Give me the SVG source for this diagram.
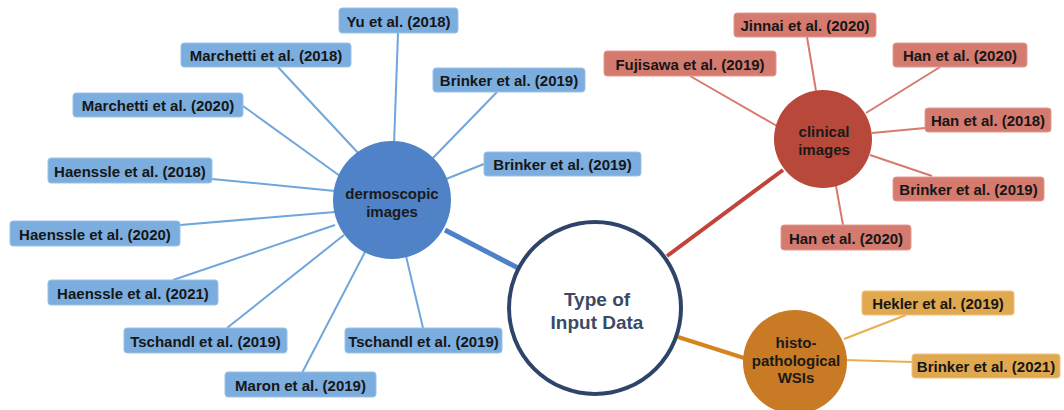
<svg xmlns="http://www.w3.org/2000/svg" width="1064" height="410" viewBox="0 0 1064 410">
  <style>
    .lbl { font-family: "Liberation Sans", Arial, sans-serif; font-size: 15px; font-weight: bold; fill: #161616; text-anchor: middle; dominant-baseline: central; }
    .hub { font-family: "Liberation Sans", Arial, sans-serif; font-size: 15px; font-weight: bold; fill: #1a1a1a; text-anchor: middle; dominant-baseline: central; }
    .root { font-family: "Liberation Sans", Arial, sans-serif; font-size: 19px; font-weight: bold; fill: #3a4a66; text-anchor: middle; dominant-baseline: central; }
    .bbox { fill: #7badde; stroke: #9cc3e8; stroke-width: 1; }
    .rbox { fill: #d47a6f; stroke: #e39a90; stroke-width: 1; }
    .obox { fill: #e0a84f; stroke: #eec27c; stroke-width: 1; }
    .bl { stroke: #6fa6dc; stroke-width: 2; fill: none; }
    .rl { stroke: #d9786c; stroke-width: 2; fill: none; }
    .ol { stroke: #e8ae4c; stroke-width: 2; fill: none; }
  </style>

  <!-- connectors -->
  <g id="connectors">
    <!-- root to categories -->
    <line x1="445" y1="230" x2="518" y2="268" stroke="#4e82c8" stroke-width="5"/>
    <line x1="667" y1="256" x2="783" y2="170" stroke="#c2433a" stroke-width="4"/>
    <line x1="678" y1="337" x2="744" y2="358" stroke="#d5841f" stroke-width="4"/>
    <!-- dermoscopic leaves -->
    <line class="bl" x1="398" y1="33" x2="394" y2="145"/>
    <line class="bl" x1="278" y1="67" x2="360" y2="155"/>
    <line class="bl" x1="243" y1="106" x2="340" y2="176"/>
    <line class="bl" x1="212" y1="179" x2="335" y2="191"/>
    <line class="bl" x1="497" y1="92" x2="431" y2="160"/>
    <line class="bl" x1="484" y1="164" x2="446" y2="179"/>
    <line class="bl" x1="180" y1="225" x2="335" y2="212"/>
    <line class="bl" x1="173" y1="280" x2="335" y2="225"/>
    <line class="bl" x1="227" y1="328" x2="344" y2="235"/>
    <line class="bl" x1="302" y1="373" x2="365" y2="252"/>
    <line class="bl" x1="423" y1="328" x2="406" y2="256"/>
    <!-- clinical leaves -->
    <line class="rl" x1="690" y1="76" x2="777" y2="126"/>
    <line class="rl" x1="807" y1="37" x2="816" y2="91"/>
    <line class="rl" x1="940" y1="67" x2="866" y2="113"/>
    <line class="rl" x1="925" y1="128" x2="872" y2="133"/>
    <line class="rl" x1="932" y1="176" x2="870" y2="155"/>
    <line class="rl" x1="843" y1="225" x2="836" y2="186"/>
    <!-- histopathology leaves -->
    <line class="ol" x1="906" y1="315" x2="844" y2="339"/>
    <line class="ol" x1="912" y1="362" x2="845" y2="360"/>
  </g>

  <!-- root -->
  <g id="root">
    <circle cx="595" cy="308" r="86" fill="#ffffff" stroke="#2e4468" stroke-width="4"/>
    <text class="root" x="597" y="299">Type of</text>
    <text class="root" x="597" y="322">Input Data</text>
  </g>

  <!-- categories -->
  <g id="dermoscopic">
    <circle cx="392" cy="200" r="59" fill="#4f82c6"/>
    <text class="hub" x="392" y="193">dermoscopic</text>
    <text class="hub" x="392" y="211">images</text>
  </g>
  <g id="clinical">
    <circle cx="823" cy="139" r="49" fill="#b8483a"/>
    <text class="hub" x="824" y="131">clinical</text>
    <text class="hub" x="824" y="149">images</text>
  </g>
  <g id="histo">
    <circle cx="795" cy="362" r="52" fill="#c87a24"/>
    <text class="hub" x="796" y="342">histo-</text>
    <text class="hub" x="796" y="360">pathological</text>
    <text class="hub" x="796" y="377">WSIs</text>
  </g>

  <!-- dermoscopic studies -->
  <g id="yu2018"><rect class="bbox" x="339" y="8" width="119" height="25" rx="3"/><text class="lbl" x="398.5" y="21">Yu et al. (2018)</text></g>
  <g id="marchetti2018"><rect class="bbox" x="181" y="43" width="170" height="24" rx="3"/><text class="lbl" x="266" y="55.5">Marchetti et al. (2018)</text></g>
  <g id="marchetti2020"><rect class="bbox" x="73" y="93" width="170" height="24" rx="3"/><text class="lbl" x="158" y="105.5">Marchetti et al. (2020)</text></g>
  <g id="brinker2019a"><rect class="bbox" x="433" y="68" width="152" height="24" rx="3"/><text class="lbl" x="509" y="80.5">Brinker et al. (2019)</text></g>
  <g id="brinker2019b"><rect class="bbox" x="484" y="152" width="157" height="24" rx="3"/><text class="lbl" x="562.5" y="164.5">Brinker et al. (2019)</text></g>
  <g id="haenssle2018"><rect class="bbox" x="48" y="158" width="164" height="25" rx="3"/><text class="lbl" x="130" y="171">Haenssle et al. (2018)</text></g>
  <g id="haenssle2020"><rect class="bbox" x="10" y="221" width="170" height="25" rx="3"/><text class="lbl" x="95" y="234">Haenssle et al. (2020)</text></g>
  <g id="haenssle2021"><rect class="bbox" x="48" y="280" width="170" height="25" rx="3"/><text class="lbl" x="133" y="293">Haenssle et al. (2021)</text></g>
  <g id="tschandl2019a"><rect class="bbox" x="124" y="328" width="163" height="25" rx="3"/><text class="lbl" x="205.5" y="341">Tschandl et al. (2019)</text></g>
  <g id="tschandl2019b"><rect class="bbox" x="345" y="328" width="157" height="25" rx="3"/><text class="lbl" x="423.5" y="341">Tschandl et al. (2019)</text></g>
  <g id="maron2019"><rect class="bbox" x="225" y="372" width="151" height="25" rx="3"/><text class="lbl" x="300.5" y="385">Maron et al. (2019)</text></g>

  <!-- clinical studies -->
  <g id="fujisawa2019"><rect class="rbox" x="604" y="51" width="172" height="25" rx="3"/><text class="lbl" x="690" y="64">Fujisawa et al. (2019)</text></g>
  <g id="jinnai2020"><rect class="rbox" x="734" y="13" width="142" height="24" rx="3"/><text class="lbl" x="805" y="25.5">Jinnai et al. (2020)</text></g>
  <g id="han2020a"><rect class="rbox" x="893" y="43" width="134" height="24" rx="3"/><text class="lbl" x="960" y="55.5">Han et al. (2020)</text></g>
  <g id="han2018"><rect class="rbox" x="925" y="108" width="126" height="24" rx="3"/><text class="lbl" x="988" y="120.5">Han et al. (2018)</text></g>
  <g id="brinker2019c"><rect class="rbox" x="893" y="177" width="151" height="24" rx="3"/><text class="lbl" x="968.5" y="189.5">Brinker et al. (2019)</text></g>
  <g id="han2020b"><rect class="rbox" x="781" y="225" width="130" height="25" rx="3"/><text class="lbl" x="846" y="238">Han et al. (2020)</text></g>

  <!-- histopathology studies -->
  <g id="hekler2019"><rect class="obox" x="862" y="291" width="152" height="24" rx="3"/><text class="lbl" x="938" y="303.5">Hekler et al. (2019)</text></g>
  <g id="brinker2021"><rect class="obox" x="912" y="354" width="148" height="24" rx="3"/><text class="lbl" x="986" y="366.5">Brinker et al. (2021)</text></g>
</svg>
